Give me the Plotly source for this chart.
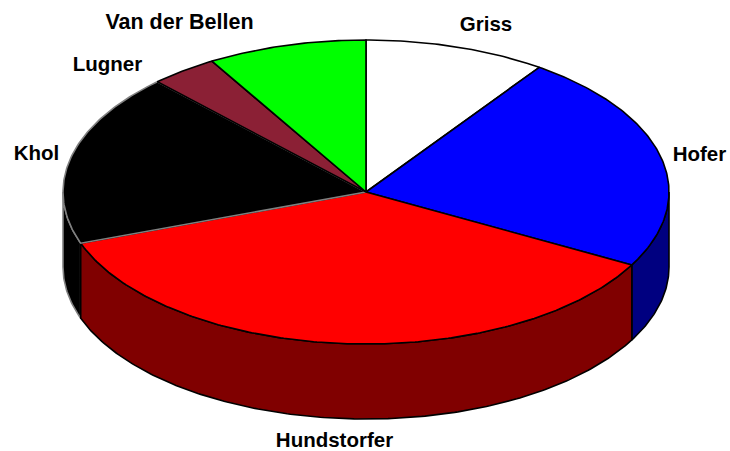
import numpy as np
import plotly.graph_objects as go

names = ["Griss", "Hofer", "Hundstorfer", "Khol", "Lugner", "Van der Bellen"]
values = [9.7, 23.3, 36.6, 18.4, 3.6, 8.5]
top_colors = ["#ffffff", "#0000ff", "#ff0000", "#000000", "#8b2035", "#00ff00"]
side_colors = ["#808080", "#000080", "#800000", "#000000", "#45101a", "#008000"]
edge_colors = ["#000000", "#000000", "#000000", "#808080", "#000000", "#000000"]

CX, CY, A, B, DEPTH = 366.0, 192.0, 303.0, 152.0, 75.0
W, H = 730, 451
label_xy = [(486, 26), (699.5, 156), (334.5, 442), (36.5, 155), (107.5, 66), (179.5, 24)]
label_sizes = [20.5, 20.5, 20.5, 20.5, 20.5, 21.5]

fracs = np.array(values) / sum(values) * 2 * np.pi
ends = np.cumsum(fracs)
starts = ends - fracs


def arc(t0, t1, dy=0.0):
    t = np.linspace(t0, t1, max(2, int(abs(t1 - t0) * 90)))
    return CX + A * np.sin(t), CY - B * np.cos(t) + dy


fig = go.Figure()

# Outer walls of the front half, from the two ends towards the front
order = sorted(range(len(values)), key=lambda i: -abs(np.pi - (starts[i] + ends[i]) / 2))
for i in order:
    lo, hi = max(starts[i], np.pi / 2), min(ends[i], 3 * np.pi / 2)
    if hi <= lo:
        continue
    x0, y0 = arc(lo, hi)
    x1, y1 = arc(lo, hi, DEPTH)
    fig.add_trace(go.Scatter(
        x=np.r_[x0, x1[::-1], x0[0]], y=np.r_[y0, y1[::-1], y0[0]],
        mode="lines", fill="toself", fillcolor=side_colors[i],
        line=dict(color=edge_colors[i], width=1.6), hoverinfo="skip",
    ))

# Top face slices
for i in range(len(values)):
    x, y = arc(starts[i], ends[i])
    fig.add_trace(go.Scatter(
        x=np.r_[CX, x, CX], y=np.r_[CY, y, CY],
        mode="lines", fill="toself", fillcolor=top_colors[i],
        line=dict(color=edge_colors[i], width=1.6), name=names[i], hoverinfo="name",
    ))

# Labels as text marks
for name, (lx, ly), size in zip(names, label_xy, label_sizes):
    fig.add_trace(go.Scatter(
        x=[lx], y=[ly], mode="text", text=[name], textposition="middle center",
        textfont=dict(family="Liberation Sans", size=size, color="#000000", weight="bold"),
        hoverinfo="skip", cliponaxis=False,
    ))

axis = dict(visible=False, fixedrange=True)
fig.update_layout(
    width=W, height=H, margin=dict(l=0, r=0, t=0, b=0), showlegend=False,
    paper_bgcolor="#ffffff", plot_bgcolor="#ffffff",
    xaxis=dict(axis, range=[0, W]), yaxis=dict(axis, range=[H, 0]),
)
fig.write_html("out.html", config=dict(displayModeBar=False),
               post_script="document.body.style.margin='0';document.documentElement.style.overflow='hidden';")
